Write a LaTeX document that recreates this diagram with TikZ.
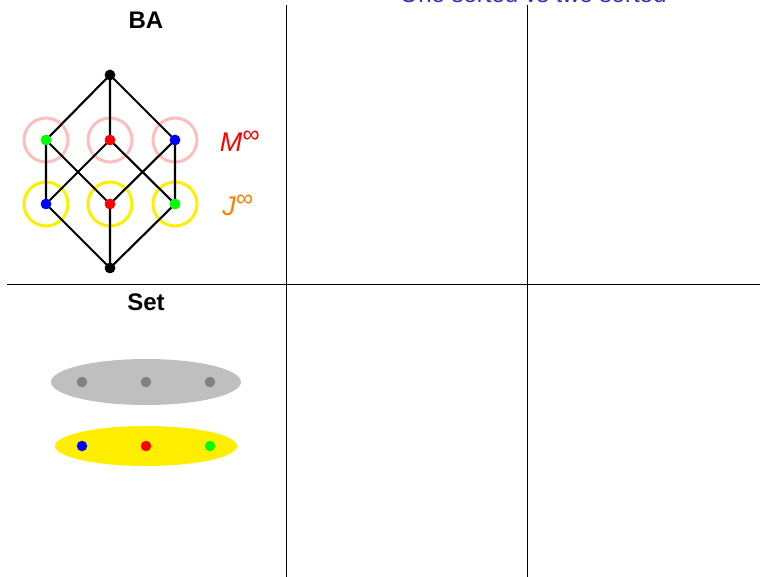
\documentclass[tikz,border=0pt]{standalone}
\usepackage{fontspec}
\setmainfont{Liberation Sans}
\begin{document}
\begin{tikzpicture}[x=1pt,y=-1pt,
  rule/.style={line width=1pt},
  edge/.style={line width=2.1pt},
  dot/.style={circle,inner sep=0pt,minimum size=10.5pt},
  ring/.style={circle,draw,line width=3pt,minimum size=44pt,inner sep=0pt},
  heading/.style={font=\bfseries\fontsize{24}{26}\selectfont}]
\useasboundingbox (0,0) rectangle (760,577);
\definecolor{pinkring}{RGB}{255,190,190}
\definecolor{yellowring}{RGB}{255,238,0}
\definecolor{titleblue}{RGB}{51,51,178}
\definecolor{jorange}{RGB}{255,128,0}
% title (clipped by the page edge, as in the reference)
\begin{scope}
\clip (0,0) rectangle (760,577);
\node[anchor=base,text=titleblue,font=\fontsize{24}{26}\selectfont] (title) at (533,3) {One sorted vs two sorted};
\end{scope}
% grid
\coordinate (v1t) at (286,5); \coordinate (v1b) at (286,577);
\coordinate (v2t) at (527,5); \coordinate (v2b) at (527,577);
\coordinate (hl) at (7,285); \coordinate (hr) at (760,285);
\draw[rule] (v1t) -- (v1b);
\draw[rule] (v2t) -- (v2b);
\draw[rule] (hl) -- (hr);
% headings
\node[heading] (ba) at (146,20) {BA};
\node[heading] (set) at (146,302) {Set};
% rings
\node[ring,draw=pinkring] (r1) at (46,140) {};
\node[ring,draw=pinkring] (r2) at (110,140) {};
\node[ring,draw=pinkring] (r3) at (175,140) {};
\node[ring,draw=yellowring] (s1) at (46,204) {};
\node[ring,draw=yellowring] (s2) at (110,204) {};
\node[ring,draw=yellowring] (s3) at (175,204) {};
% lattice nodes
\node[dot,fill=black] (top) at (110,75) {};
\node[dot,fill=green] (m1) at (46,140) {};
\node[dot,fill=red] (m2) at (110,140) {};
\node[dot,fill=blue] (m3) at (175,140) {};
\node[dot,fill=blue] (j1) at (46,204) {};
\node[dot,fill=red] (j2) at (110,204) {};
\node[dot,fill=green] (j3) at (175,204) {};
\node[dot,fill=black] (bot) at (110,268) {};
\draw[edge] (top.center) -- (m1.center) (top.center) -- (m2.center) (top.center) -- (m3.center)
  (m1.center) -- (j1.center) (m1.center) -- (j2.center)
  (m2.center) -- (j1.center) (m2.center) -- (j3.center)
  (m3.center) -- (j2.center) (m3.center) -- (j3.center)
  (j1.center) -- (bot.center) (j2.center) -- (bot.center) (j3.center) -- (bot.center);
\node[dot,fill=black] at (top) {};
\node[dot,fill=green] at (m1) {};
\node[dot,fill=red] at (m2) {};
\node[dot,fill=blue] at (m3) {};
\node[dot,fill=blue] at (j1) {};
\node[dot,fill=red] at (j2) {};
\node[dot,fill=green] at (j3) {};
\node[dot,fill=black] at (bot) {};
% labels
\node[text=red,font=\itshape\fontsize{27}{29}\selectfont] (ml) at (240,141) {M\textsuperscript{\fontsize{24}{26}\selectfont ∞}};
\node[text=jorange,font=\itshape\fontsize{27}{29}\selectfont] (jl) at (238,205) {J\textsuperscript{\fontsize{24}{26}\selectfont ∞}};
% Set ellipses
\fill[black!25] (146,382) ellipse [x radius=95, y radius=23];
\fill[yellowring] (146,446) ellipse [x radius=91, y radius=20];
\node[dot,fill=gray] (g1) at (82,382) {};
\node[dot,fill=gray] (g2) at (146,382) {};
\node[dot,fill=gray] (g3) at (210,382) {};
\node[dot,fill=blue] (y1) at (82,446) {};
\node[dot,fill=red] (y2) at (146,446) {};
\node[dot,fill=green] (y3) at (210,446) {};
\end{tikzpicture}
\end{document}
